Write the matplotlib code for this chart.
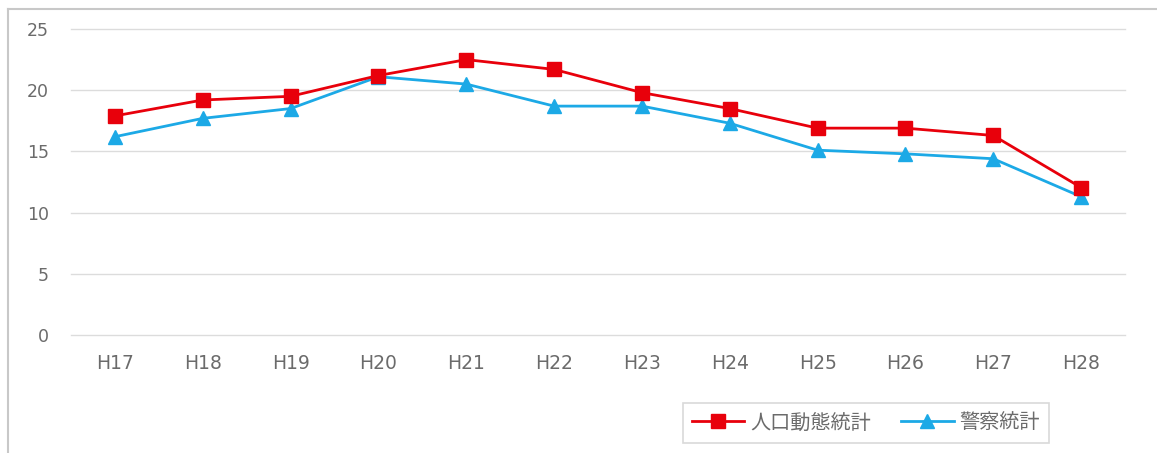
import matplotlib
matplotlib.use("Agg")
import matplotlib.pyplot as plt
from matplotlib.lines import Line2D

plt.rcParams['font.family'] = ['Noto Sans CJK JP', 'DejaVu Sans']

categories = ["H17", "H18", "H19", "H20", "H21", "H22", "H23", "H24", "H25", "H26", "H27", "H28"]
vital_stats = [17.9, 19.2, 19.5, 21.2, 22.5, 21.7, 19.8, 18.5, 16.9, 16.9, 16.3, 12.05]
police_stats = [16.2, 17.7, 18.5, 21.1, 20.5, 18.7, 18.7, 17.3, 15.1, 14.8, 14.4, 11.3]
series_names = ["人口動態統計", "警察統計"]
y_ticks = [0, 5, 10, 15, 20, 25]

RED = '#E8000B'
BLUE = '#1CA9E6'
GRAY_TXT = '#6B6B6B'

W, H = 1157, 453
fig = plt.figure(figsize=(W / 100, H / 100), dpi=100)
fig.patch.set_facecolor('white')

# outer chart border (top and left visible)
fig.add_artist(Line2D([8 / W, 8 / W], [0, 1 - 9 / H], transform=fig.transFigure,
                      color='#C8C8C8', lw=1.5))
fig.add_artist(Line2D([8 / W, 1], [1 - 9 / H, 1 - 9 / H], transform=fig.transFigure,
                      color='#C8C8C8', lw=1.5))

left, right = 71 / W, 1125 / W
bottom, top = 1 - 335 / H, 1 - 29 / H
ax = fig.add_axes([left, bottom, right - left, top - bottom])

x = list(range(len(categories)))
ax.plot(x, vital_stats, color=RED, lw=2.0, marker='s', markersize=10,
        label=series_names[0], zorder=3)
ax.plot(x, police_stats, color=BLUE, lw=2.0, marker='^', markersize=10.5,
        label=series_names[1], zorder=2)

ax.set_xlim(-0.5, len(categories) - 0.5)
ax.set_ylim(0, 25)
ax.set_yticks(y_ticks)
ax.set_xticks(x)
ax.set_xticklabels(categories)
ax.grid(axis='y', color='#DCDCDC', lw=1.0)
for gl in ax.get_ygridlines():
    gl.set_clip_on(False)
ax.set_axisbelow(True)
for s in ax.spines.values():
    s.set_visible(False)
ax.tick_params(axis='both', length=0, colors=GRAY_TXT, labelsize=12.5)
ax.tick_params(axis='y', pad=16)
ax.tick_params(axis='x', pad=14)
for lab in ax.get_xticklabels():
    lab.set_family(['DejaVu Sans'])
    lab.set_fontsize(13.5)
for lab in ax.get_yticklabels():
    lab.set_family(['DejaVu Sans'])

leg = fig.legend(loc='center', bbox_to_anchor=(866 / W, 1 - 423 / H), ncol=2,
                 frameon=True, fancybox=False, edgecolor='#D0D0D0',
                 fontsize=14.5, handlelength=2.6, columnspacing=1.5,
                 handletextpad=0.3, borderpad=0.45, borderaxespad=0)
for t in leg.get_texts():
    t.set_color(GRAY_TXT)
leg.get_frame().set_linewidth(1.2)

fig.savefig('out.png', dpi=100, facecolor='white')
